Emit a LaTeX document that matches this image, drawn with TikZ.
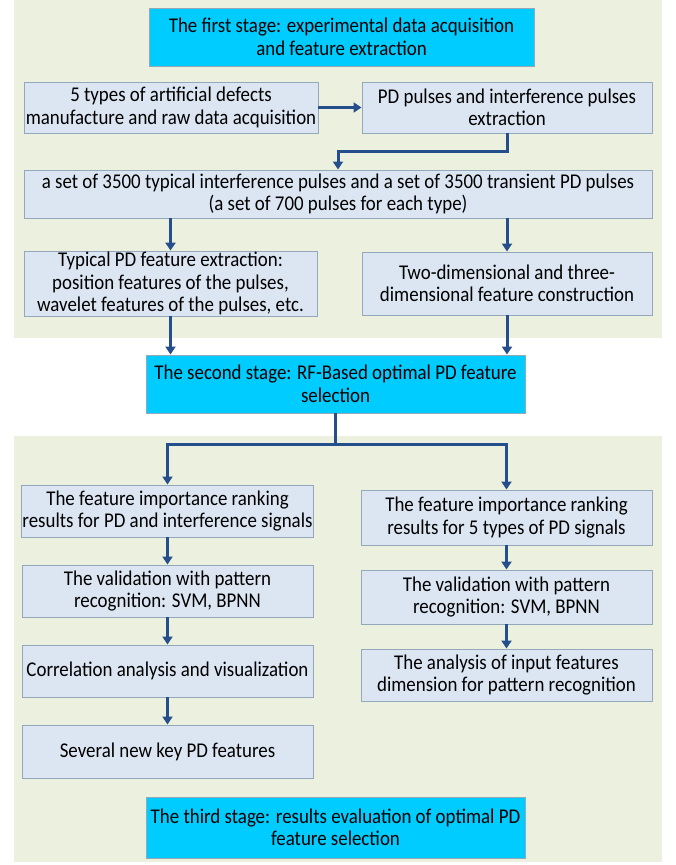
\documentclass[tikz,border=0pt]{standalone}
\usepackage{fontspec}
\setmainfont[FakeStretch=0.9]{Carlito}
\usetikzlibrary{arrows.meta,calc}
\definecolor{panelbg}{HTML}{EBF1DE}
\definecolor{boxfill}{HTML}{DCE6F2}
\definecolor{boxline}{HTML}{95A7BA}
\definecolor{stagecyan}{HTML}{00CCFF}
\definecolor{arrowblue}{HTML}{254E8C}
\tikzset{
  box/.style={draw=boxline, line width=0.9pt, fill=boxfill, align=center, inner sep=1pt,
    font=\fontsize{21}{22.5}\selectfont},
  stagebox/.style={box, fill=stagecyan},
  flow/.style={draw=arrowblue, line width=3pt, -{Triangle[width=10pt,length=8pt]}},
  plainflow/.style={draw=arrowblue, line width=3pt},
}
\newcommand{\bx}[6]{\node[#1, minimum width=#4pt, minimum height=#5pt] (#2) at (#3) {#6};}
\begin{document}
\begin{tikzpicture}[x=1pt,y=-1pt]
\useasboundingbox (0,0) rectangle (675,865);
\fill[white] (0,0) rectangle (675,865);
\fill[panelbg] (14,0) rectangle (662,338);
\fill[panelbg] (14,436) rectangle (662,862);

\bx{stagebox}{s1}{341.5,37}{385}{58}{The first stage: experimental data acquisition\\and feature extraction}
\bx{box}{a}{171,107.5}{294}{51}{5 types of artificial defects\\manufacture and raw data acquisition}
\bx{box}{b}{507,107.5}{290}{51}{PD pulses and interference pulses\\extraction}
\bx{box}{c}{338,194}{628}{48}{a set of 3500 typical interference pulses and a set of 3500 transient PD pulses\\(a set of 700 pulses for each type)}
\bx{box}{d}{170.5,283.5}{293}{63}{Typical PD feature extraction:\\position features of the pulses,\\wavelet features of the pulses, etc.}
\bx{box}{e}{507,283.5}{290}{63}{Two-dimensional and three-\\dimensional feature construction}
\bx{stagebox}{s2}{335.5,384}{379}{58}{The second stage: RF-Based optimal PD feature\\selection}

\bx{box}{l1}{167.5,511}{291}{52}{The feature importance ranking\\results for PD and interference signals}
\bx{box}{l2}{167.5,591}{291}{52}{The validation with pattern\\recognition: SVM, BPNN}
\bx{box}{l3}{167.5,671}{291}{52}{Correlation analysis and visualization}
\bx{box}{l4}{167.5,751.5}{291}{53}{Several new key PD features}
\bx{box}{r1}{506.5,517.5}{291}{55}{The feature importance ranking\\results for 5 types of PD signals}
\bx{box}{r2}{506.5,597}{291}{54}{The validation with pattern\\recognition: SVM, BPNN}
\bx{box}{r3}{506.5,675}{291}{52}{The analysis of input features\\dimension for pattern recognition}
\bx{stagebox}{s3}{335.5,827.5}{379}{61}{The third stage: results evaluation of optimal PD\\feature selection}

\draw[flow] (a.east) -- (b.west);
\draw[flow] (b.south) -- ++(0,18) -| (c.north);
\draw[flow] (c.south -| d.north) -- (d.north);
\draw[flow] (c.south -| e.north) -- (e.north);
\draw[flow] (d.south) -- (d.south |- s2.north);
\draw[flow] (e.south) -- (e.south |- s2.north);
\coordinate (split) at ($(s2.south)+(0,31)$);
\draw[plainflow] (s2.south) -- (split);
\draw[flow] (split) -| (l1.north);
\draw[flow] (split) -| (r1.north);
\draw[flow] (l1.south) -- (l2.north);
\draw[flow] (l2.south) -- (l3.north);
\draw[flow] (l3.south) -- (l4.north);
\draw[flow] (r1.south) -- (r2.north);
\draw[flow] (r2.south) -- (r3.north);
\end{tikzpicture}
\end{document}
